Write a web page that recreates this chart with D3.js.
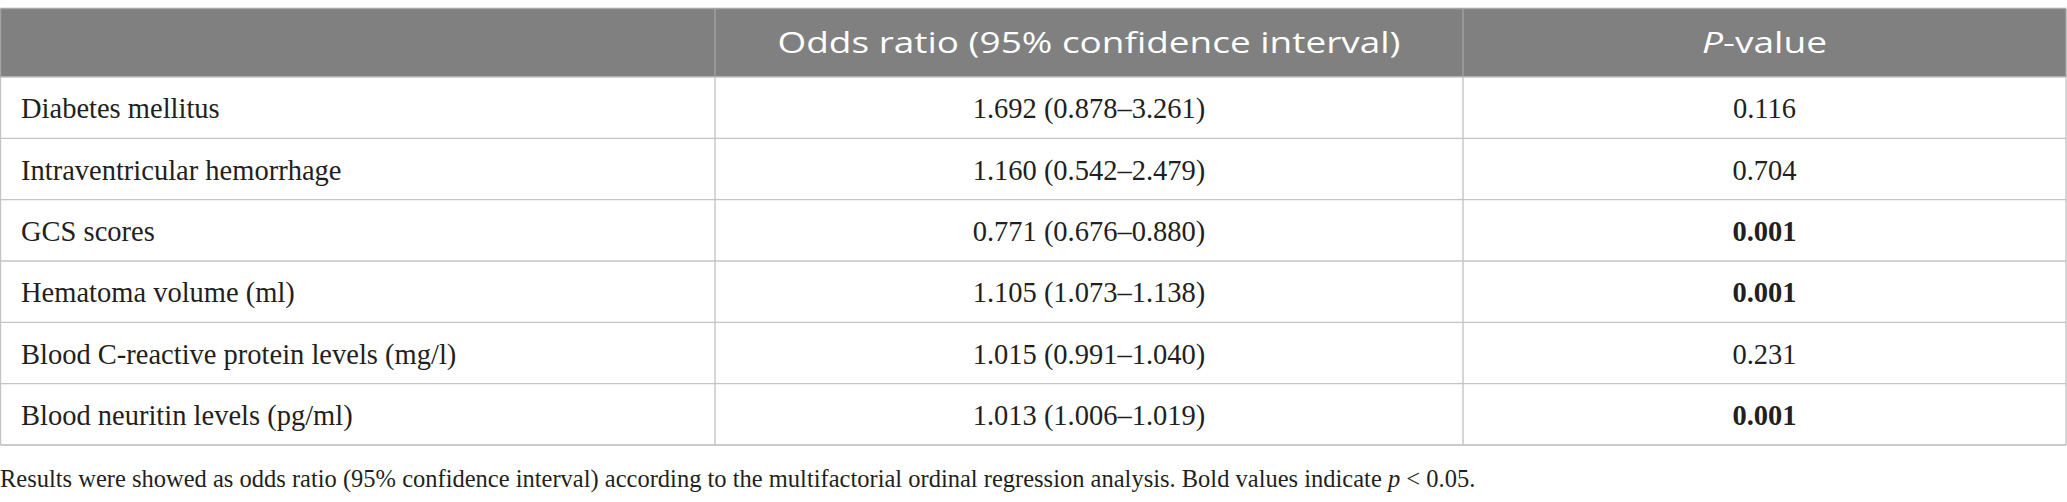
<!DOCTYPE html>
<html>
<head>
<meta charset="utf-8">
<script src="https://cdn.jsdelivr.net/npm/d3@7"></script>
<style>
  html, body { margin: 0; padding: 0; background: #fff; }
  svg { display: block; }
</style>
</head>
<body>
<div id="chart"></div>
<script>
// table data
const variables = [
    "Diabetes mellitus",
    "Intraventricular hemorrhage",
    "GCS scores",
    "Hematoma volume (ml)",
    "Blood C-reactive protein levels (mg/l)",
    "Blood neuritin levels (pg/ml)"
];
const oddsRatios = [1.692, 1.160, 0.771, 1.105, 1.015, 1.013];
const ciLower = [0.878, 0.542, 0.676, 1.073, 0.991, 1.006];
const ciUpper = [3.261, 2.479, 0.880, 1.138, 1.040, 1.019];
const pValues = [0.116, 0.704, 0.001, 0.001, 0.231, 0.001];
const columnKeys = ["variable", "or", "p"];
const significance = 0.05;

const width = 2067;
const height = 502;

const headerTop = 8.5;
const headerBottom = 77;
const tableBottom = 445;

// column edges
const colEdges = [0.5, 715, 1463, 2066];
const x = d3.scaleOrdinal().domain(columnKeys).range(colEdges.slice(0, 3));
const xEnd = d3.scaleOrdinal().domain(columnKeys).range(colEdges.slice(1));

const y = d3.scaleBand()
    .domain(variables)
    .range([headerBottom, tableBottom]);

const fmt = d3.format(".3f");

const rows = variables.map((v, i) => ({
    variable: v,
    or: `${fmt(oddsRatios[i])} (${fmt(ciLower[i])}\u2013${fmt(ciUpper[i])})`,
    p: fmt(pValues[i]),
    bold: pValues[i] < significance
}));

const svg = d3.select("#chart").append("svg")
    .attr("width", width)
    .attr("height", height);

// header band
svg.append("rect")
    .attr("x", colEdges[0])
    .attr("y", headerTop)
    .attr("width", colEdges[3] - colEdges[0])
    .attr("height", headerBottom - headerTop)
    .attr("fill", "#7f807f");

const serif = "'Liberation Serif', 'Times New Roman', serif";
const sans = "'Open Sans', 'Noto Sans', sans-serif";

// header labels - original face is wider than Open Sans, stretch glyphs to fit
const head = svg.append("g").attr("font-family", sans).attr("fill", "#fff").attr("font-size", 30);

head.append("text")
    .attr("x", (x("or") + xEnd("or")) / 2)
    .attr("y", 52.5)
    .attr("text-anchor", "middle")
    .attr("textLength", 623)
    .attr("lengthAdjust", "spacingAndGlyphs")
    .text("Odds ratio (95% confidence interval)");

const pHead = head.append("text")
    .attr("x", (x("p") + xEnd("p")) / 2)
    .attr("y", 52.5)
    .attr("text-anchor", "middle")
    .attr("textLength", 125)
    .attr("lengthAdjust", "spacingAndGlyphs");
pHead.append("tspan").attr("font-style", "italic").text("P");
pHead.append("tspan").text("-value");

// grid lines
const grid = svg.append("g").attr("stroke-width", 1.4).attr("fill", "none");

grid.selectAll("line.h")
    .data(variables.slice(1))
    .join("line")
    .attr("class", "h")
    .attr("x1", colEdges[0]).attr("x2", colEdges[3])
    .attr("y1", d => y(d)).attr("y2", d => y(d))
    .attr("stroke", "#c4c4c4");

grid.append("line")
    .attr("x1", colEdges[0]).attr("x2", colEdges[3])
    .attr("y1", headerBottom).attr("y2", headerBottom)
    .attr("stroke", "#c4c4c4");

grid.append("line")
    .attr("x1", colEdges[0]).attr("x2", colEdges[3])
    .attr("y1", tableBottom).attr("y2", tableBottom)
    .attr("stroke", "#b8b8b8");

grid.append("line")
    .attr("x1", colEdges[0]).attr("x2", colEdges[3])
    .attr("y1", headerTop).attr("y2", headerTop)
    .attr("stroke", "#a8a8a8");

// vertical lines, body part
grid.selectAll("line.v")
    .data(colEdges)
    .join("line")
    .attr("class", "v")
    .attr("x1", d => d).attr("x2", d => d)
    .attr("y1", headerBottom).attr("y2", tableBottom)
    .attr("stroke", "#c4c4c4");

// vertical lines, header part
grid.selectAll("line.vh")
    .data(colEdges)
    .join("line")
    .attr("class", "vh")
    .attr("x1", d => d).attr("x2", d => d)
    .attr("y1", headerTop).attr("y2", headerBottom)
    .attr("stroke", "#a3a3a3");

// body cells
const body = svg.append("g")
    .attr("font-family", serif)
    .attr("font-size", 28.5)
    .attr("fill", "#231f20");

const rowG = body.selectAll("g.row")
    .data(rows)
    .join("g")
    .attr("class", "row")
    .attr("transform", d => `translate(0, ${y(d.variable) + y.bandwidth() / 2 + 10.5})`);

rowG.append("text")
    .attr("x", x("variable") + 20.5)
    .text(d => d.variable);

rowG.append("text")
    .attr("x", (x("or") + xEnd("or")) / 2)
    .attr("text-anchor", "middle")
    .text(d => d.or);

rowG.append("text")
    .attr("x", (x("p") + xEnd("p")) / 2)
    .attr("text-anchor", "middle")
    .attr("font-weight", d => d.bold ? "bold" : "normal")
    .text(d => d.p);

// footnote
const note = svg.append("text")
    .attr("x", 0)
    .attr("y", 487)
    .attr("font-family", serif)
    .attr("font-size", 24.5)
    .attr("fill", "#231f20");
note.append("tspan").text("Results were showed as odds ratio (95% confidence interval) according to the multifactorial ordinal regression analysis. Bold values indicate ");
note.append("tspan").attr("font-style", "italic").text("p");
note.append("tspan").text(" < 0.05.");
</script>
</body>
</html>
